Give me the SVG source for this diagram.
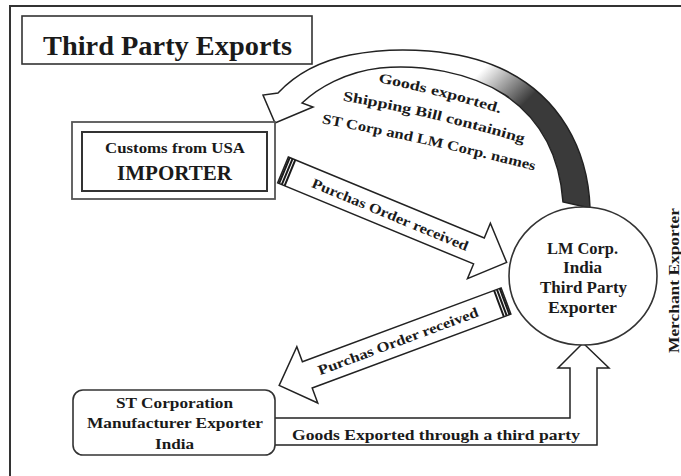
<svg xmlns="http://www.w3.org/2000/svg" width="681" height="476" viewBox="0 0 681 476">
<style>
  .t{font-family:"Liberation Serif","Times New Roman",serif;font-weight:bold;fill:#1a1a1a;text-anchor:middle}
  .box{fill:#fff;stroke:#333;stroke-width:1.6}
  .arr{fill:#fff;stroke:#222;stroke-width:1.5;stroke-linejoin:miter}
  .stripe{stroke:#1a1a1a;stroke-width:2}
</style>
<defs>
  <linearGradient id="arcGrad" gradientUnits="userSpaceOnUse" x1="490" y1="62" x2="528" y2="100">
    <stop offset="0" stop-color="#ffffff"/>
    <stop offset="1" stop-color="#3a3a3a"/>
  </linearGradient>
  <path id="p1" d="M376,82 Q438,94 502,114"/>
  <path id="p2" d="M340,100 Q432,116 526,144"/>
  <path id="p3" d="M320,123 Q428,143 536,171"/>
</defs>

<rect width="681" height="476" fill="#fff"/>
<g id="frame">
  <rect x="10" y="6" width="700" height="500" fill="none" stroke="#333" stroke-width="2"/>
</g>

<g id="title">
  <rect class="box" x="22" y="16" width="290" height="48"/>
  <text class="t" x="167.5" y="54.5" font-size="28" textLength="249" lengthAdjust="spacingAndGlyphs">Third Party Exports</text>
</g>

<g id="connectors">
  <!-- curved arrow: LM Corp -> Importer -->
  <path class="arr" style="fill:url(#arcGrad)" d="M590,208 C588,150 560,95 500,68 C460,50 400,45 350,55 C315,62 292,78 278,93 L263,95 L275,123 L313,107 L302,103 C318,88 345,72 380,68 C420,64 470,72 505,95 C545,122 560,160 563,202 Z"/>
  <text class="t" font-size="14"><textPath href="#p1" startOffset="50%" textLength="126" lengthAdjust="spacingAndGlyphs">Goods exported.</textPath></text>
  <text class="t" font-size="14"><textPath href="#p2" startOffset="50%" textLength="186" lengthAdjust="spacingAndGlyphs">Shipping Bill containing</textPath></text>
  <text class="t" font-size="14"><textPath href="#p3" startOffset="50%" textLength="218" lengthAdjust="spacingAndGlyphs">ST Corp and LM Corp. names</textPath></text>

  <!-- Purchase order: Importer -> LM Corp -->
  <g transform="translate(283,170) rotate(22.46)">
    <polygon class="arr" points="0,-14 212,-14 212,-30 242,0 212,30 212,14 0,14"/>
    <line class="stripe" x1="1.5" y1="-14" x2="1.5" y2="14"/>
    <line class="stripe" x1="4.5" y1="-14" x2="4.5" y2="14"/>
    <line class="stripe" x1="7.5" y1="-14" x2="7.5" y2="14"/>
    <text class="t" x="116" y="5" font-size="14" textLength="168" lengthAdjust="spacingAndGlyphs">Purchas Order received</text>
  </g>

  <!-- Purchase order: LM Corp -> ST Corporation -->
  <g transform="translate(506,301) rotate(159.6)">
    <polygon class="arr" points="0,-14 212,-14 212,-30 242,0 212,30 212,14 0,14"/>
    <line class="stripe" x1="1.5" y1="-14" x2="1.5" y2="14"/>
    <line class="stripe" x1="4.5" y1="-14" x2="4.5" y2="14"/>
    <line class="stripe" x1="7.5" y1="-14" x2="7.5" y2="14"/>
  </g>
  <text class="t" transform="translate(398,341) rotate(-20.4)" x="0" y="5" font-size="14" textLength="170" lengthAdjust="spacingAndGlyphs">Purchas Order received</text>

  <!-- Goods exported through a third party: ST -> LM Corp -->
  <path class="arr" d="M275,418 H570 V368 H558 L583,343 L609,368 H597 V445 H275"/>
  <text class="t" x="436" y="439.5" font-size="14.5" textLength="288" lengthAdjust="spacingAndGlyphs">Goods Exported through a third party</text>
</g>

<g id="importer">
  <rect x="72" y="122" width="203" height="77" fill="#fff" stroke="#555" stroke-width="1.8"/>
  <rect x="82" y="132" width="185" height="59" fill="none" stroke="#333" stroke-width="2"/>
  <text class="t" x="175" y="153" font-size="15" textLength="140" lengthAdjust="spacingAndGlyphs">Customs from USA</text>
  <text class="t" x="174.5" y="180" font-size="21" textLength="115" lengthAdjust="spacingAndGlyphs">IMPORTER</text>
</g>

<g id="lmcorp">
  <ellipse cx="583" cy="276" rx="74" ry="69" fill="#fff" stroke="#333" stroke-width="1.6"/>
  <text class="t" x="582.5" y="254" font-size="16" textLength="71" lengthAdjust="spacingAndGlyphs">LM Corp.</text>
  <text class="t" x="582.5" y="273" font-size="16" textLength="39" lengthAdjust="spacingAndGlyphs">India</text>
  <text class="t" x="583.5" y="293" font-size="16" textLength="87" lengthAdjust="spacingAndGlyphs">Third Party</text>
  <text class="t" x="582.5" y="313" font-size="16" textLength="69" lengthAdjust="spacingAndGlyphs">Exporter</text>
</g>

<g id="merchant-label">
  <text class="t" transform="translate(679,280.5) rotate(-90)" font-size="15" textLength="145" lengthAdjust="spacingAndGlyphs">Merchant Exporter</text>
</g>

<g id="stcorp">
  <rect class="box" x="73" y="390" width="202" height="65" rx="10" ry="10"/>
  <text class="t" x="174.5" y="408" font-size="15" textLength="117" lengthAdjust="spacingAndGlyphs">ST Corporation</text>
  <text class="t" x="175" y="428" font-size="15" textLength="176" lengthAdjust="spacingAndGlyphs">Manufacturer Exporter</text>
  <text class="t" x="174.5" y="449" font-size="15" textLength="39" lengthAdjust="spacingAndGlyphs">India</text>
</g>
</svg>
